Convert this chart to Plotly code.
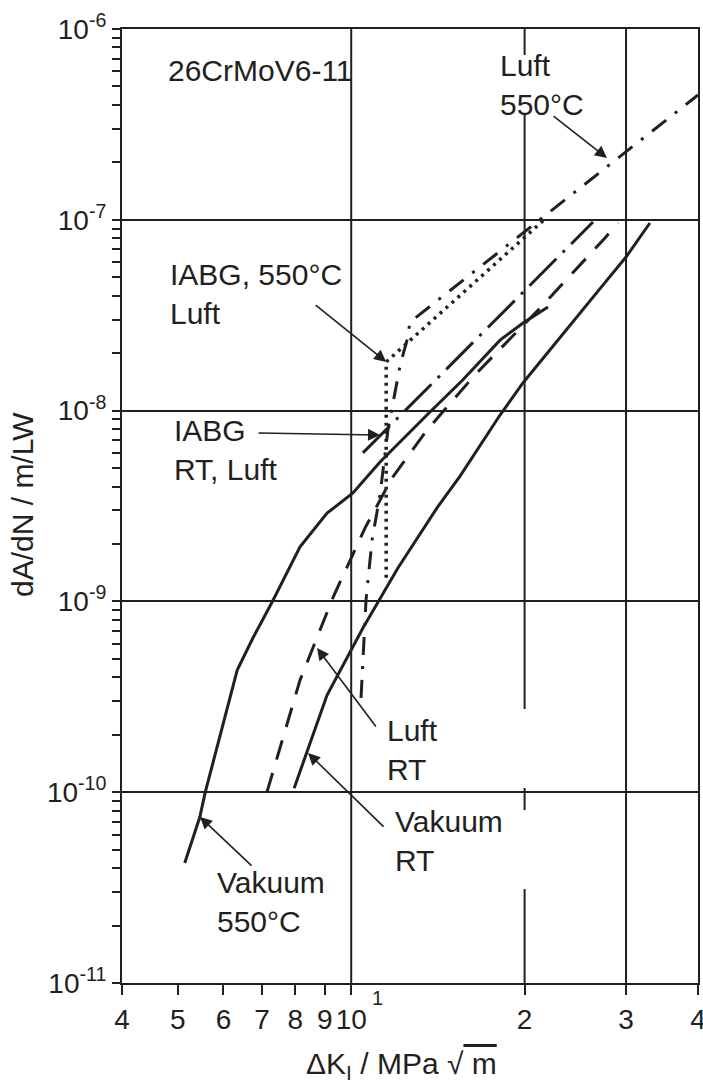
import math
import plotly.graph_objects as go

# ---------------- data (ΔK in MPa·√m, dA/dN in m/LW) ----------------
vak550_dk = [5.14, 5.46, 5.58, 6.34, 6.75, 7.29, 8.15, 9.08, 10.07, 11.22, 13.70, 15.63, 18.13, 19.88, 21.96]
vak550_da = [4.26e-11, 7.41e-11, 1.0e-10, 4.37e-10, 6.43e-10, 9.93e-10, 1.93e-9, 2.90e-9, 3.70e-9,
             5.38e-9, 9.84e-9, 1.45e-8, 2.34e-8, 2.88e-8, 3.49e-8]

vakrt_dk = [7.96, 9.08, 10.48, 12.06, 14.09, 15.45, 18.13, 19.88, 27.80, 30.0, 33.0]
vakrt_da = [1.05e-10, 3.23e-10, 7.26e-10, 1.50e-9, 3.09e-9, 4.54e-9, 9.48e-9, 1.40e-8, 4.83e-8, 6.38e-8, 9.62e-8]

luftrt_dk = [7.14, 8.15, 9.30, 10.57, 11.77, 13.54, 16.40, 21.53, 27.58, 29.05]
luftrt_da = [1.0e-10, 3.87e-10, 1.05e-9, 2.43e-9, 4.43e-9, 7.91e-9, 1.54e-8, 3.58e-8, 8.03e-8, 9.62e-8]

luft550_dk = [10.40, 10.61, 10.87, 11.22, 11.58, 12.16, 12.50, 12.65, 40.0]
luft550_da = [3.12e-10, 1.02e-9, 2.10e-9, 3.61e-9, 7.91e-9, 1.73e-8, 2.34e-8, 2.91e-8, 4.51e-7]

iabg550_dk = [11.5, 11.5, 21.7]
iabg550_da = [1.33e-9, 1.80e-8, 1.01e-7]

iabgrt_dk = [10.48, 26.29]
iabgrt_da = [6.00e-9, 9.74e-8]

x_tickvals = [4, 5, 6, 7, 8, 9, 10, 20, 30, 40]
x_ticktext = ["4", "5", "6", "7", "8", "9", "10", "2", "3", "4"]
x_decade_exp = "1"
y_tickvals = [1e-11, 1e-10, 1e-9, 1e-8, 1e-7, 1e-6]
y_ticktext = ["10<sup>-11</sup>", "10<sup>-10</sup>", "10<sup>-9</sup>", "10<sup>-8</sup>",
              "10<sup>-7</sup>", "10<sup>-6</sup>"]
y_minor = [m * 10.0 ** e for e in range(-11, -6) for m in range(2, 10)]

INK = "#231f20"
FONT = "Arial"
FS = 30
TFS = 28

fig = go.Figure()

def curve(xs, ys, dash, width=3.0):
    fig.add_trace(go.Scatter(x=xs, y=ys, mode="lines",
                             line=dict(color=INK, width=width, dash=dash),
                             showlegend=False, hoverinfo="skip"))

curve(vak550_dk, vak550_da, "solid")
curve(vakrt_dk, vakrt_da, "solid")
curve(luftrt_dk, luftrt_da, "20px,14px")
curve(luft550_dk, luft550_da, "18px,11px,3px,11px")
curve(iabg550_dk, iabg550_da, "3px,5px", 3.5)
curve(iabgrt_dk, iabgrt_da, "38px,9px,3px,9px")

# vertical grid lines (x = 10, 30 full; x = 20 interrupted)
grid = dict(color=INK, width=2)
for xv in (10, 30):
    fig.add_shape(type="line", xref="x", yref="paper", x0=xv, x1=xv, y0=0, y1=1,
                  line=grid, layer="below")
for y0, y1 in [(0.0, 0.0985), (0.1813, 0.2044), (0.2872, 0.9099), (0.9727, 1.0)]:
    fig.add_shape(type="line", xref="x", yref="paper", x0=20, x1=20, y0=y0, y1=y1,
                  line=grid, layer="below")

def label(text, lx, ly):
    fig.add_annotation(text=text, x=lx, y=ly, xref="x", yref="y", showarrow=False,
                       xanchor="left", yanchor="middle", align="left",
                       font=dict(family=FONT, size=FS, color=INK))

def arrow(tx, ty, ax, ay):
    fig.add_annotation(text="", x=tx, y=ty, xref="x", yref="y", ax=ax, ay=ay,
                       showarrow=True, arrowhead=2, arrowsize=1.5, arrowwidth=1.6,
                       arrowcolor=INK, standoff=0)

L = math.log10
label("26CrMoV6-11", 0.6785, -6.215)
label("Luft<br>550°C", 1.2549, -6.296)
label("IABG, 550°C<br>Luft", 0.6819, -7.389)
label("IABG<br>RT, Luft", 0.6889, -8.204)
label("Luft<br>RT", 1.0587, -9.781)
label("Vakuum<br>RT", 1.0725, -10.258)
label("Vakuum<br>550°C", 0.7635, -10.573)

arrow(1.4441, -6.676, -55, -43)
arrow(L(11.5), L(1.80e-8), -72, -58)
arrow(1.0500, -8.128, -123, -2)
arrow(0.9406, -9.244, 60, 80)
arrow(0.9250, -9.795, 77, 75)
arrow(0.7375, -10.130, 53, 50)

# exponent of the decade tick label "10^1"
fig.add_annotation(text=x_decade_exp, xref="paper", yref="paper",
                   x=(370 - 122) / 576, y=(983 - 998) / 954,
                   showarrow=False, xanchor="left", yanchor="middle",
                   font=dict(family=FONT, size=20, color=INK))

# axis titles
fig.add_annotation(text="ΔK<sub>I</sub> / MPa √<span style='text-decoration:overline'> m</span>",
                   xref="paper", yref="paper", x=0.486, y=(983 - 1065) / 954,
                   showarrow=False, xanchor="center", yanchor="middle",
                   font=dict(family=FONT, size=FS, color=INK))
fig.add_annotation(text="dA/dN / m/LW", xref="paper", yref="paper",
                   x=(22 - 122) / 576, y=(983 - 505) / 954, textangle=-90,
                   showarrow=False, xanchor="center", yanchor="middle",
                   font=dict(family=FONT, size=FS, color=INK))

fig.update_layout(
    width=703, height=1084,
    margin=dict(l=122, r=5, t=29, b=101, autoexpand=False),
    paper_bgcolor="white", plot_bgcolor="white",
    font=dict(family=FONT, size=FS, color=INK),
    xaxis=dict(type="log", range=[L(4) - 1e-5, L(40) + 1e-5], tickvals=x_tickvals, ticktext=x_ticktext,
               tickangle=0, automargin=False, ticklabeloverflow="allow",
               ticks="outside", ticklen=10, tickwidth=2, tickcolor=INK,
               showline=True, linewidth=2, linecolor=INK, mirror=True,
               showgrid=False, zeroline=False,
               tickfont=dict(family=FONT, size=TFS, color=INK)),
    yaxis=dict(type="log", range=[-11, -6], tickvals=y_tickvals, ticktext=y_ticktext,
               automargin=False, ticklabeloverflow="allow",
               ticks="outside", ticklen=8, tickwidth=2, tickcolor=INK,
               showline=True, linewidth=2, linecolor=INK, mirror=True,
               showgrid=True, gridcolor=INK, gridwidth=2, zeroline=False,
               minor=dict(tickvals=y_minor, ticks="outside", ticklen=8, tickwidth=2,
                          tickcolor=INK, showgrid=False),
               tickfont=dict(family=FONT, size=TFS, color=INK)),
)

fig.write_html("out.html", config={"displayModeBar": False},
               post_script="document.body.style.margin='0px';document.body.style.padding='0px';")
